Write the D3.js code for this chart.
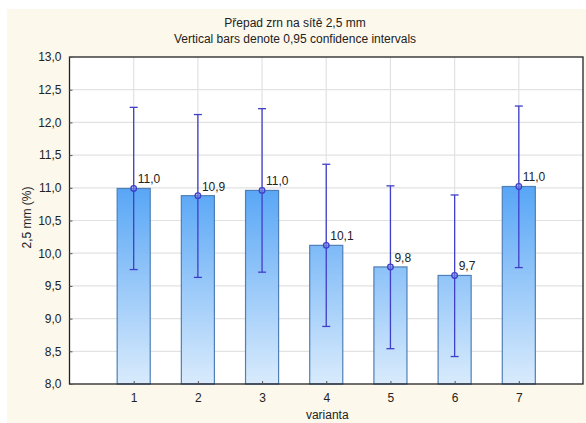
<!DOCTYPE html>
<html>
<head>
<meta charset="utf-8">
<script src="https://cdn.jsdelivr.net/npm/d3@7"></script>
<style>
  html, body { margin: 0; padding: 0; background: #ffffff; }
  svg { display: block; font-family: "Liberation Sans", Arial, sans-serif; }
</style>
</head>
<body>
<svg id="chart" width="586" height="423"></svg>
<script>
// Grain passing the 2.5 mm sieve, mean per variant with 0.95 confidence interval
const categories = [1, 2, 3, 4, 5, 6, 7];
const means      = [10.99, 10.88, 10.96, 10.12, 9.79, 9.66, 11.02];
const ciLower    = [9.75, 9.63, 9.71, 8.88, 8.54, 8.42, 9.78];
const ciUpper    = [12.23, 12.12, 12.21, 11.36, 11.03, 10.89, 12.25];
const yTicks     = [8.0, 8.5, 9.0, 9.5, 10.0, 10.5, 11.0, 11.5, 12.0, 12.5, 13.0];

const titleLines = ["Přepad zrn na sítě 2,5 mm", "Vertical bars denote 0,95 confidence intervals"];
const xTitle = "varianta";
const yTitle = "2,5 mm (%)";

const svg = d3.select("#chart");
const W = 586, H = 423;
const plot = { left: 69.5, right: 583, top: 57, bottom: 384 };

const comma = v => d3.format(".1f")(v).replace(".", ",");

// page background panel
svg.append("rect").attr("x", 7).attr("y", 9).attr("width", W - 7).attr("height", H - 9)
  .attr("fill", "#fdf8ec");

const x = d3.scaleLinear().domain([0, 8]).range([plot.left, plot.right]);
const y = d3.scaleLinear().domain([8, 13]).range([plot.bottom, plot.top]);
const barW = (x(1) - x(0)) * 0.515;

// gradient fill for the bars
const defs = svg.append("defs");
const grad = defs.append("linearGradient").attr("id", "barGrad")
  .attr("gradientUnits", "userSpaceOnUse")
  .attr("x1", 0).attr("y1", y(11)).attr("x2", 0).attr("y2", y(8));
grad.append("stop").attr("offset", "0%").attr("stop-color", "#58a6f6");
grad.append("stop").attr("offset", "100%").attr("stop-color", "#d9ebfc");

// plot area
svg.append("rect").attr("x", plot.left).attr("y", plot.top)
  .attr("width", plot.right - plot.left).attr("height", plot.bottom - plot.top)
  .attr("fill", "#ffffff");

// grid lines
const grid = svg.append("g").attr("stroke", "#e2e2e2").attr("stroke-width", 1.2);
grid.selectAll("line.h").data(yTicks.slice(1, -1)).join("line")
  .attr("x1", plot.left).attr("x2", plot.right)
  .attr("y1", d => y(d)).attr("y2", d => y(d));
grid.selectAll("line.v").data(categories).join("line")
  .attr("y1", plot.top).attr("y2", plot.bottom)
  .attr("x1", d => x(d)).attr("x2", d => x(d));

// bars
svg.append("g").selectAll("rect").data(categories).join("rect")
  .attr("x", (d) => x(d) - barW / 2)
  .attr("y", (d, i) => y(means[i]))
  .attr("width", barW)
  .attr("height", (d, i) => y(8) - y(means[i]))
  .attr("fill", "url(#barGrad)")
  .attr("stroke", "#4f7fb6")
  .attr("stroke-width", 1.2);

// confidence intervals
const eb = svg.append("g").attr("stroke", "#3f3fc8").attr("stroke-width", 1.3).attr("fill", "none");
categories.forEach((c, i) => {
  const cx = x(c);
  eb.append("line").attr("x1", cx).attr("x2", cx).attr("y1", y(ciLower[i])).attr("y2", y(ciUpper[i]));
  [ciLower[i], ciUpper[i]].forEach(v => {
    eb.append("line").attr("x1", cx - 4).attr("x2", cx + 4).attr("y1", y(v)).attr("y2", y(v));
  });
  eb.append("circle").attr("cx", cx).attr("cy", y(means[i])).attr("r", 2.8)
    .attr("fill", "#7d8ff0").attr("fill-opacity", 0.5);
});

// value labels
svg.append("g").selectAll("text").data(categories).join("text")
  .attr("x", d => x(d) + 4)
  .attr("y", (d, i) => y(means[i]) - 5)
  .attr("font-size", 12).attr("fill", "#222")
  .text((d, i) => comma(means[i]));

// frame
svg.append("rect").attr("x", plot.left).attr("y", plot.top)
  .attr("width", plot.right - plot.left).attr("height", plot.bottom - plot.top)
  .attr("fill", "none").attr("stroke", "#222").attr("stroke-width", 1.3);

// axes
const yAxis = d3.axisLeft(y).tickValues(yTicks).tickSize(-3).tickPadding(8).tickFormat(comma);
const yg = svg.append("g").attr("transform", `translate(${plot.left},0)`).call(yAxis);
const xAxis = d3.axisBottom(x).tickValues(categories).tickSize(-3).tickPadding(9).tickFormat(d3.format("d"));
const xg = svg.append("g").attr("transform", `translate(0,${plot.bottom})`).call(xAxis);
[yg, xg].forEach(g => {
  g.select(".domain").remove();
  g.selectAll(".tick line").attr("stroke", "#555");
  g.selectAll(".tick text").attr("fill", "#222").attr("font-size", 12)
    .attr("font-family", "Liberation Sans, Arial, sans-serif");
});

// titles
svg.append("g").selectAll("text").data(titleLines).join("text")
  .attr("x", 295)
  .attr("y", (d, i) => 27 + i * 15.5)
  .attr("text-anchor", "middle").attr("font-size", 12).attr("fill", "#222")
  .text(d => d);

svg.append("text").attr("x", (plot.left + plot.right) / 2 + 1).attr("y", 419)
  .attr("text-anchor", "middle").attr("font-size", 12).attr("fill", "#222")
  .text(xTitle);

svg.append("text")
  .attr("transform", `translate(31,${(plot.top + plot.bottom) / 2 - 3}) rotate(-90)`)
  .attr("text-anchor", "middle").attr("font-size", 12).attr("fill", "#222")
  .text(yTitle);
</script>
</body>
</html>
